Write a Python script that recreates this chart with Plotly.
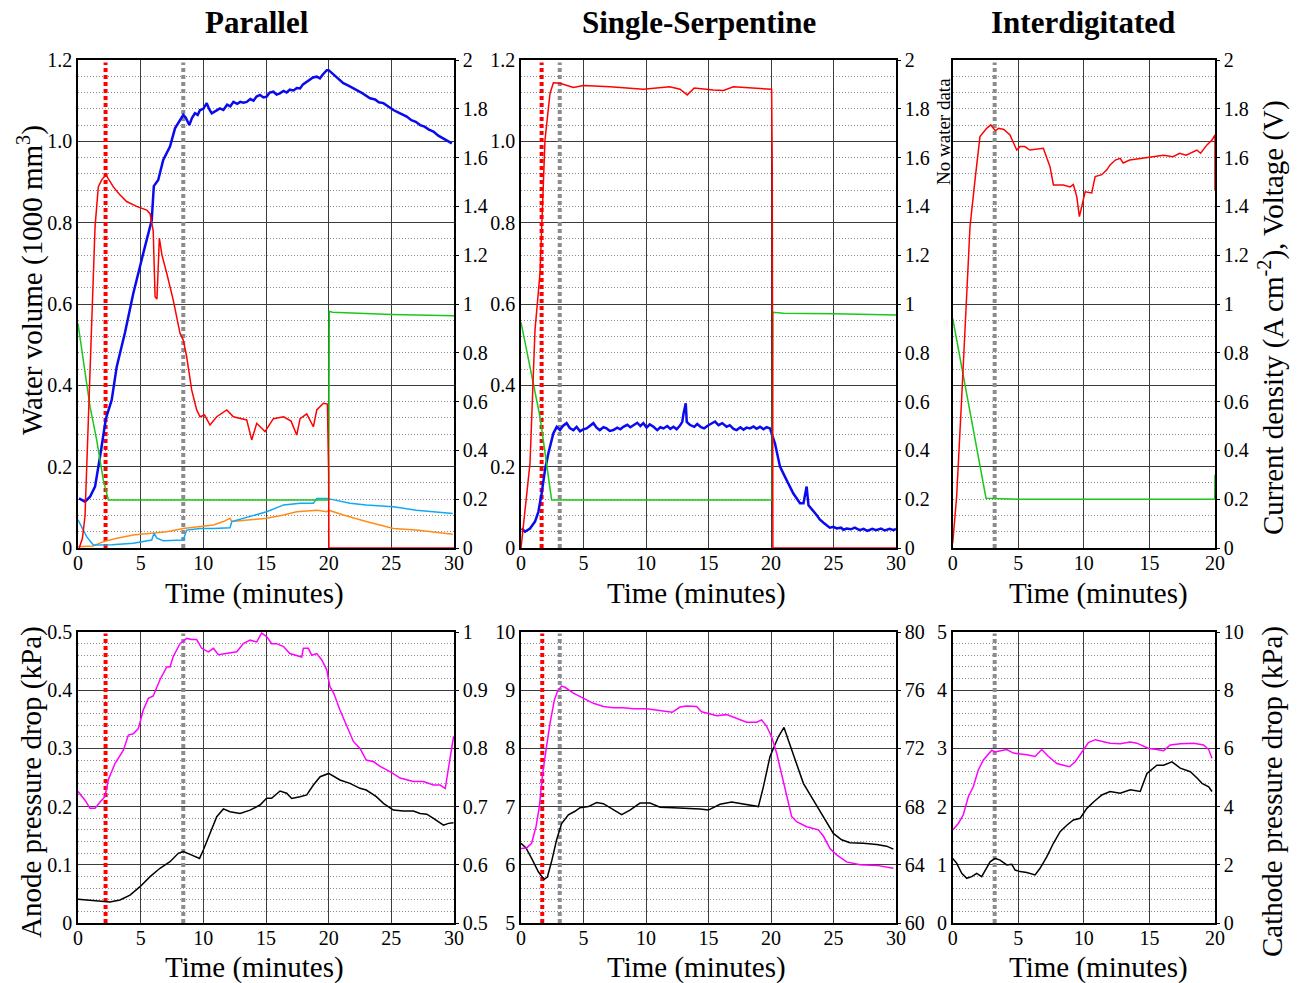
import plotly.graph_objects as go

FONT = "Liberation Serif"

# ---------------- DATA (time in minutes, value) ----------------
# Parallel, top: water volume (left axis, 1000 mm^3)
PAR_BLUE = [(0.08,0.122),(0.56,0.114),(0.96,0.126),(1.36,0.151),(1.76,0.225),(2.23,0.319),(2.69,0.364),
            (3.09,0.446),(3.75,0.53),(4.41,0.626),(5.21,0.725),(5.6,0.77),(5.88,0.806),(6.05,0.89),(6.4,0.905),
            (6.8,0.954),(7.34,0.987),(7.74,1.032),(8.1,1.05),(8.4,1.065),(8.6,1.058),(8.88,1.040),(9.1,1.058),
            (9.33,1.069),(9.55,1.065),(9.74,1.077),(10.0,1.08),(10.27,1.094),(10.45,1.08),(10.67,1.069),
            (11.0,1.075),(11.33,1.081),(11.6,1.077),(11.9,1.09),(12.15,1.086),(12.4,1.097),(12.7,1.092),
            (12.95,1.097),(13.2,1.095),(13.46,1.097),(13.75,1.104),(14.0,1.1),(14.25,1.11),(14.52,1.114),
            (14.8,1.108),(15.05,1.11),(15.3,1.12),(15.59,1.122),(15.85,1.115),(16.1,1.118),(16.4,1.124),
            (16.65,1.12),(16.9,1.127),(17.2,1.125),(17.45,1.131),(17.72,1.130),(17.95,1.14),(18.2,1.145),
            (18.5,1.151),(18.75,1.157),(19.05,1.159),(19.3,1.155),(19.55,1.165),(19.85,1.175),(20.0,1.175),
            (20.25,1.168),(20.5,1.16),(20.8,1.152),(21.17,1.143),(21.5,1.138),(21.85,1.133),(22.24,1.126),
            (22.6,1.12),(22.95,1.112),(23.3,1.106),(23.7,1.103),(24.0,1.096),(24.37,1.094),(24.75,1.085),
            (25.16,1.077),(25.5,1.072),(25.85,1.066),(26.23,1.061),(26.6,1.052),(26.95,1.048),(27.3,1.04),
            (27.65,1.036),(28.0,1.029),(28.36,1.024),(28.75,1.014),(29.16,1.007),(29.5,1.002),(29.83,0.995)]
PAR_LIGHTBLUE = [(0.0,0.069),(0.69,0.028),(1.22,0.0074),(2.7,0.008),(4.41,0.0115),(5.88,0.0197),(6.07,0.036),
                 (6.3,0.024),(6.8,0.018),(8.4,0.0197),(8.67,0.044),(9.74,0.048),(10.8,0.048),(12.13,0.05),
                 (12.27,0.065),(13.73,0.077),(15.05,0.089),(16.4,0.106),(17.72,0.11),(18.78,0.11),(19.05,0.122),
                 (19.85,0.122),(20.4,0.118),(21.7,0.11),(23.0,0.106),(25.16,0.1016),(27.0,0.093),(28.36,0.089),
                 (29.9,0.085)]
PAR_ORANGE = [(0.0,0.003),(1.22,0.005),(2.02,0.0156),(3.09,0.024),(4.41,0.032),(5.75,0.036),(7.08,0.04),
              (8.4,0.048),(9.74,0.052),(10.8,0.0566),(11.6,0.065),(12.13,0.073),(12.27,0.065),(13.73,0.069),
              (15.05,0.073),(16.4,0.081),(17.45,0.089),(19.05,0.093),(19.85,0.089),(20.0,0.093),(21.17,0.081),
              (23.0,0.065),(25.16,0.048),(27.0,0.044),(29.9,0.034)]
# Parallel, top: right axis (current density / voltage)
PAR_RED = [(0.1,0.0),(0.35,0.04),(0.56,0.13),(0.74,0.39),(0.9,0.63),(1.09,0.88),(1.36,1.317),(1.62,1.48),
           (1.9,1.51),(2.23,1.529),(2.82,1.48),(3.3,1.45),(3.88,1.42),(4.68,1.40),(5.48,1.385),(5.75,1.37),
           (6.0,1.30),(6.15,1.03),(6.3,1.02),(6.49,1.27),(6.7,1.2),(7.08,1.126),(7.6,1.016),(8.14,0.88),
           (8.4,0.852),(8.67,0.784),(9.07,0.648),(9.47,0.566),(9.74,0.538),(10.1,0.545),(10.53,0.504),
           (11.07,0.538),(11.87,0.566),(12.4,0.538),(13.46,0.525),(13.86,0.443),(14.26,0.511),(14.92,0.477),
           (15.59,0.53),(16.4,0.538),(17.0,0.52),(17.45,0.463),(17.72,0.53),(18.25,0.55),(18.78,0.497),
           (19.05,0.566),(19.58,0.593),(19.9,0.59),(20.0,0.30),(20.02,0.0),(30.0,0.0)]
PAR_GREEN = [(0.0,0.92),(0.69,0.661),(0.96,0.579),(1.49,0.443),(2.02,0.279),(2.42,0.197),(5.0,0.197),
             (10.0,0.197),(15.0,0.196),(18.8,0.196),(20.0,0.197),(20.05,0.97),(20.3,0.966),(25.0,0.957),
             (30.0,0.952)]

# Single-Serpentine, top
SER_BLUE = [(0.05,0.048),(0.32,0.04),(0.72,0.048),(1.12,0.065),(1.39,0.089),(1.65,0.134),(1.92,0.192),
            (2.19,0.233),(2.59,0.282),(2.86,0.298),(3.12,0.29),(3.35,0.3),(3.65,0.307),(3.9,0.295),(4.19,0.29),
            (4.45,0.298),(4.72,0.287),(5.0,0.292),(5.25,0.294),(5.5,0.3),(5.79,0.307),(6.05,0.296),(6.3,0.29),
            (6.6,0.297),(6.85,0.294),(7.1,0.288),(7.39,0.29),(7.7,0.296),(7.95,0.292),(8.19,0.298),(8.5,0.303),
            (8.75,0.297),(8.99,0.301),(9.3,0.308),(9.55,0.3),(9.79,0.307),(10.05,0.296),(10.3,0.304),
            (10.6,0.298),(10.9,0.29),(11.15,0.297),(11.4,0.294),(11.7,0.3),(11.95,0.293),(12.2,0.298),
            (12.45,0.292),(12.72,0.301),(12.9,0.31),(13.0,0.33),(13.1,0.35),(13.18,0.356),(13.26,0.31),
            (13.5,0.303),(13.86,0.298),(14.1,0.305),(14.4,0.297),(14.65,0.294),(14.9,0.3),(15.2,0.305),
            (15.52,0.311),(15.8,0.302),(16.1,0.307),(16.45,0.298),(16.7,0.302),(17.0,0.293),(17.25,0.29),
            (17.55,0.297),(17.8,0.291),(18.05,0.296),(18.32,0.294),(18.6,0.299),(18.85,0.293),(19.12,0.298),
            (19.4,0.292),(19.65,0.297),(19.92,0.294),(20.32,0.257),(20.72,0.2),(21.12,0.175),(21.79,0.134),
            (22.32,0.11),(22.6,0.11),(22.85,0.151),(23.0,0.105),(23.65,0.081),(23.9,0.07),(24.2,0.062),
            (24.45,0.057),(24.7,0.05),(25.0,0.052),(25.25,0.048),(25.6,0.05),(25.8,0.045),(26.05,0.048),
            (26.4,0.046),(26.7,0.05),(27.1,0.044),(27.4,0.047),(27.7,0.042),(28.1,0.047),(28.4,0.044),
            (28.8,0.048),(29.1,0.043),(29.5,0.047),(29.8,0.044),(30.0,0.047)]
SER_RED = [(0.0,0.0),(0.72,0.347),(1.12,0.893),(1.52,1.126),(1.92,1.672),(2.32,1.863),(2.59,1.907),
           (3.12,1.905),(4.19,1.887),(4.99,1.895),(7.12,1.89),(9.79,1.88),(11.9,1.89),(12.72,1.88),
           (13.3,1.857),(13.86,1.885),(15.39,1.877),(16.2,1.875),(16.99,1.89),(18.6,1.885),(20.05,1.88),
           (20.1,1.563),(20.15,0.0),(30.0,0.0)]
SER_GREEN = [(0.0,0.925),(1.52,0.538),(2.45,0.197),(5.0,0.197),(10.0,0.197),(15.0,0.197),(20.1,0.197),
             (20.15,0.966),(21.0,0.962),(25.0,0.96),(30.0,0.955)]

# Interdigitated, top (no water data)
INT_RED = [(0.0,0.02),(0.3,0.21),(0.69,0.62),(0.94,0.88),(1.32,1.317),(1.7,1.508),(2.08,1.686),(2.59,1.72),
           (2.9,1.734),(3.25,1.71),(3.5,1.72),(3.9,1.715),(4.37,1.693),(4.88,1.631),(5.13,1.645),(5.5,1.645),
           (5.88,1.631),(6.91,1.638),(7.42,1.563),(7.68,1.488),(8.44,1.488),(8.95,1.48),(9.2,1.49),
           (9.46,1.44),(9.66,1.358),(9.84,1.40),(10.1,1.46),(10.6,1.455),(10.86,1.522),(11.37,1.53),
           (11.75,1.55),(12.0,1.57),(12.4,1.59),(12.77,1.597),(13.0,1.578),(13.5,1.59),(14.5,1.597),
           (15.3,1.604),(16.07,1.61),(16.8,1.604),(17.3,1.618),(17.8,1.61),(18.62,1.631),(18.9,1.618),
           (19.39,1.652),(19.77,1.672),(20.0,1.693),(20.0,1.467)]
INT_GREEN = [(0.0,0.941),(2.54,0.204),(5.0,0.2),(10.0,0.2),(15.0,0.2),(19.98,0.2),(20.0,0.3)]

# Bottom row: anode (left axis) black, cathode (right axis) magenta
PAR_ANODE = [(0,0.0407),(0.96,0.039),(1.76,0.0367),(2.55,0.0361),(3.35,0.0395),(4.15,0.048),(4.95,0.0624),
             (5.75,0.0796),(6.54,0.094),(7.34,0.1053),(8.0,0.1197),(8.4,0.1226),(8.94,0.118),(9.33,0.1146),
             (9.7,0.111),(10.0,0.1254),(10.53,0.154),(11.07,0.1826),(11.6,0.196),(12.13,0.1912),(12.93,0.1883),
             (13.73,0.194),(14.52,0.2027),(15.05,0.2142),(15.45,0.2142),(16.12,0.2268),(16.65,0.223),
             (17.05,0.214),(17.72,0.217),(18.25,0.22),(18.78,0.237),(19.32,0.2514),(20.0,0.257),(20.4,0.2514),
             (20.9,0.2457),(21.7,0.24),(22.5,0.2314),(23.0,0.2285),(23.8,0.217),(24.37,0.2056),(25.16,0.194),
             (25.96,0.1924),(26.76,0.1924),(27.3,0.1883),(27.83,0.187),(28.36,0.1798),(29.16,0.168),
             (29.56,0.1712),(29.96,0.1724)]
PAR_CATHODE = [(0,0.726),(0.56,0.711),(0.96,0.697),(1.36,0.697),(1.76,0.708),(2.15,0.717),(2.42,0.746),
               (2.95,0.774),(3.62,0.797),(4.02,0.823),(4.41,0.825),(4.81,0.834),(5.21,0.866),(5.61,0.886),
               (6.0,0.89),(6.54,0.918),(7.08,0.94),(7.34,0.94),(7.6,0.958),(8.14,0.98),(8.67,0.989),(9.07,0.987),
               (9.47,0.987),(9.87,0.972),(10.4,0.966),(10.8,0.972),(11.2,0.961),(11.87,0.963),(12.67,0.966),
               (13.19,0.98),(13.73,0.986),(14.26,0.983),(14.65,0.998),(15.05,0.992),(15.45,0.98),(15.85,0.98),
               (16.4,0.975),(16.9,0.963),(17.45,0.96),(17.85,0.957),(17.98,0.972),(18.38,0.972),(18.65,0.96),
               (19.05,0.963),(19.45,0.952),(19.85,0.935),(20.1,0.906),(20.4,0.895),(20.9,0.866),(21.45,0.837),
               (21.97,0.812),(22.5,0.8),(23.0,0.78),(23.6,0.777),(24.1,0.769),(24.9,0.76),(25.7,0.749),
               (26.75,0.743),(27.55,0.743),(28.36,0.737),(28.9,0.737),(29.3,0.731),(29.56,0.769),(29.96,0.82)]
SER_ANODE = [(0,6.37),(0.4,6.29),(0.85,6.11),(1.39,5.88),(1.84,5.75),(2.11,5.79),(2.45,6.06),(2.85,6.43),
             (3.25,6.71),(3.79,6.86),(4.32,6.92),(4.72,6.98),(5.39,7.0),(6.05,7.07),(6.59,7.05),(7.39,6.95),
             (8.05,6.86),(8.72,6.94),(9.52,7.06),(10.32,7.06),(11.12,6.99),(12.19,6.98),(13.25,6.97),
             (14.32,6.96),(14.99,6.94),(15.92,7.04),(16.85,7.08),(17.79,7.04),(18.99,7.0),(19.39,7.34),
             (19.92,7.86),(20.59,8.2),(21.04,8.36),(21.39,8.14),(21.92,7.8),(22.59,7.4),(23.39,7.11),
             (24.19,6.83),(24.99,6.54),(25.65,6.43),(26.32,6.38),(27.39,6.37),(28.45,6.35),(29.25,6.32),
             (29.79,6.27)]
SER_CATHODE = [(0,65.12),(0.45,65.16),(0.85,65.48),(1.2,66.62),(1.47,68.0),(1.73,70.28),(2.0,71.88),
               (2.32,73.72),(2.67,75.32),(2.93,75.96),(3.25,76.28),(3.52,76.2),(4.19,75.8),(4.99,75.44),
               (5.79,75.1),(6.59,74.88),(7.39,74.8),(8.19,74.8),(8.99,74.72),(10.05,74.72),(11.12,74.6),
               (12.1,74.48),(12.72,74.84),(13.25,74.92),(14.05,74.88),(14.45,74.52),(15.0,74.4),(15.65,74.24),
               (16.45,74.32),(17.25,74.08),(18.05,73.8),(18.85,73.8),(19.25,73.96),(19.65,73.52),(20.05,72.8),
               (20.45,71.68),(20.85,70.28),(21.25,68.68),(21.65,67.32),(22.05,66.96),(22.85,66.62),
               (23.79,66.4),(24.2,65.96),(24.72,65.12),(25.25,64.68),(26.05,64.2),(27.12,64.0),(28.45,63.96),
               (29.79,63.76)]
INT_ANODE = [(0,1.11),(0.3,1.03),(0.69,0.854),(1.07,0.768),(1.45,0.797),(1.83,0.854),(2.21,0.797),(2.47,0.91),
             (2.85,1.05),(3.23,1.11),(3.61,1.08),(4.12,0.997),(4.5,1.01),(4.76,0.91),(5.14,0.883),(5.65,0.866),
             (6.28,0.825),(6.66,0.94),(7.18,1.14),(7.68,1.37),(8.19,1.57),(8.7,1.68),(9.2,1.77),(9.72,1.8),
             (10.23,1.97),(10.74,2.08),(11.37,2.2),(12.0,2.26),(12.77,2.23),(13.54,2.29),(14.3,2.26),
             (14.81,2.57),(15.57,2.71),(16.08,2.71),(16.72,2.77),(17.35,2.66),(18.12,2.6),(18.63,2.49),
             (19.01,2.4),(19.52,2.34),(19.77,2.26)]
INT_CATHODE = [(0,3.2),(0.43,3.42),(0.81,3.72),(1.19,4.34),(1.57,4.68),(1.95,5.26),(2.34,5.6),(2.72,5.78),
               (2.98,5.94),(3.23,5.88),(3.61,5.92),(4.12,5.96),(4.63,5.84),(5.14,5.82),(5.65,5.78),(6.28,5.72),
               (6.79,5.96),(7.3,5.72),(7.94,5.48),(8.45,5.42),(8.9,5.37),(9.34,5.54),(9.85,5.88),(10.35,6.2),
               (10.87,6.3),(11.38,6.24),(12.0,6.18),(12.77,6.16),(13.54,6.22),(14.04,6.18),(14.55,6.08),
               (14.94,6.0),(15.57,5.96),(16.08,5.92),(16.59,6.12),(17.35,6.16),(18.37,6.18),(19.13,6.12),
               (19.52,5.96),(19.77,5.66)]

# Event markers (minutes): red = first event, gray = second event
RED_MARKERS = {0: 2.2, 1: 1.65, 3: 2.2, 4: 1.7}
GRAY_MARKERS = {0: 8.4, 1: 3.1, 2: 3.2, 3: 8.4, 4: 3.1, 5: 3.2}

PANEL_TITLES = ["Parallel", "Single-Serpentine", "Interdigitated"]

# ---------------- LAYOUT GEOMETRY ----------------
W, H = 1300, 983
COLS = [(78, 454), (521, 896), (952.7, 1215)]
ROWS = [(60, 548), (632, 923)]
TITLE_X = [257, 699, 1083]
XLABEL_X = [254, 696, 1098]

def px(x):
    return x / W

def py(y):
    return 1 - y / H

BLUE, RED, GREEN, LBLUE, ORANGE, MAG, BLACK = "#0a0af0", "#ff0000", "#19c819", "#12a8f0", "#ff8c1a", "#ff00ff", "#000000"

panels = [
    dict(row=0, col=0, xmax=30, left=(0, 1.2, 0.2, 0.04, ["0", "0.2", "0.4", "0.6", "0.8", "1.0", "1.2"]),
         right=(0, 2, ["0", "0.2", "0.4", "0.6", "0.8", "1", "1.2", "1.4", "1.6", "1.8", "2"]),
         series=[(PAR_GREEN, GREEN, 1.5, "R"), (PAR_RED, RED, 1.5, "R"), (PAR_ORANGE, ORANGE, 1.5, "L"),
                 (PAR_LIGHTBLUE, LBLUE, 1.5, "L"), (PAR_BLUE, BLUE, 2.5, "L")]),
    dict(row=0, col=1, xmax=30, left=(0, 1.2, 0.2, 0.04, ["0", "0.2", "0.4", "0.6", "0.8", "1.0", "1.2"]),
         right=(0, 2, ["0", "0.2", "0.4", "0.6", "0.8", "1", "1.2", "1.4", "1.6", "1.8", "2"]),
         series=[(SER_GREEN, GREEN, 1.5, "R"), (SER_RED, RED, 1.5, "R"), (SER_BLUE, BLUE, 2.5, "L")]),
    dict(row=0, col=2, xmax=20, left=(0, 1.2, 0.2, 0.04, None),
         right=(0, 2, ["0", "0.2", "0.4", "0.6", "0.8", "1", "1.2", "1.4", "1.6", "1.8", "2"]),
         series=[(INT_GREEN, GREEN, 1.5, "R"), (INT_RED, RED, 1.5, "R")]),
    dict(row=1, col=0, xmax=30, left=(0, 0.5, 0.1, 0.02, ["0", "0.1", "0.2", "0.3", "0.4", "0.5"]),
         right=(0.5, 1, ["0.5", "0.6", "0.7", "0.8", "0.9", "1"]),
         series=[(PAR_CATHODE, MAG, 1.5, "R"), (PAR_ANODE, BLACK, 1.5, "L")]),
    dict(row=1, col=1, xmax=30, left=(5, 10, 1, 0.2, ["5", "6", "7", "8", "9", "10"]),
         right=(60, 80, ["60", "64", "68", "72", "76", "80"]),
         series=[(SER_CATHODE, MAG, 1.5, "R"), (SER_ANODE, BLACK, 1.5, "L")]),
    dict(row=1, col=2, xmax=20, left=(0, 5, 1, 0.2, ["0", "1", "2", "3", "4", "5"]),
         right=(0, 10, ["0", "2", "4", "6", "8", "10"]),
         series=[(INT_CATHODE, MAG, 1.5, "R"), (INT_ANODE, BLACK, 1.5, "L")]),
]

fig = go.Figure()
layout = {}
tickfont = dict(family=FONT, size=20, color="black")

for i, p in enumerate(panels):
    n = i + 1
    xname = "x" if n == 1 else f"x{n}"
    ylname = "y" if n == 1 else f"y{2*n-1}"
    yrname = f"y{2*n}"
    xkey = "xaxis" if n == 1 else f"xaxis{n}"
    ylkey = "yaxis" if n == 1 else f"yaxis{2*n-1}"
    yrkey = f"yaxis{2*n}"
    x0, x1 = COLS[p["col"]]
    y0, y1 = ROWS[p["row"]]
    lo, hi, major, minor, ltext = p["left"]
    rlo, rhi, rtext = p["right"]
    nmaj = int(round((hi - lo) / major))
    lvals = [lo + k * major for k in range(nmaj + 1)]
    nmin = int(round((hi - lo) / minor))
    mvals = [lo + k * minor for k in range(nmin + 1)]
    rstep = (rhi - rlo) / (len(rtext) - 1)
    rvals = [rlo + k * rstep for k in range(len(rtext))]

    layout[xkey] = dict(domain=[px(x0), px(x1)], anchor=ylname, range=[0, p["xmax"]],
                        tickvals=list(range(0, p["xmax"] + 1, 5)), showgrid=True, gridcolor="#3c3c3c",
                        gridwidth=1, showline=True, linecolor="black", linewidth=1.5, mirror=True,
                        ticks="", tickfont=tickfont, zeroline=False, fixedrange=True, automargin=False,
                        ticklabelstandoff=-4)
    yl = dict(domain=[py(y1), py(y0)], anchor=xname, range=[lo, hi], tickmode="array", tickvals=lvals,
              showticklabels=ltext is not None,
              showgrid=True, gridcolor="#3c3c3c", gridwidth=1,
              minor=dict(tickmode="array", tickvals=mvals, showgrid=True, gridcolor="#8a8a8a",
                         gridwidth=1, griddash="1px,2px", ticks=""),
              showline=True, linecolor="black", linewidth=1.5, mirror=True, ticks="",
              tickfont=tickfont, zeroline=False, fixedrange=True, automargin=False)
    if ltext is not None:
        yl["ticktext"] = ltext
    layout[ylkey] = yl
    layout[yrkey] = dict(overlaying=ylname, side="right", anchor=xname, range=[rlo, rhi], tickmode="array",
                         tickvals=rvals, ticktext=rtext, showgrid=False, showline=True, linecolor="black",
                         linewidth=1.5, ticks="outside", ticklen=3, tickcolor="black", tickfont=tickfont,
                         zeroline=False, fixedrange=True, automargin=False)

    # event marker lines
    for mk, col in ((RED_MARKERS, RED), (GRAY_MARKERS, "#8c8c8c")):
        if i in mk:
            fig.add_trace(go.Scatter(x=[mk[i], mk[i]], y=[lo, hi - (hi - lo) * 0.005], mode="lines",
                                     line=dict(color=col, width=4, dash="4px,3px"),
                                     xaxis=xname, yaxis=ylname, showlegend=False, hoverinfo="skip"))
    for data, color, width, side in p["series"]:
        fig.add_trace(go.Scatter(x=[d[0] for d in data], y=[d[1] for d in data], mode="lines",
                                 line=dict(color=color, width=width),
                                 xaxis=xname, yaxis=ylname if side == "L" else yrname,
                                 showlegend=False, hoverinfo="skip"))

annotations = []
for c, t in enumerate(PANEL_TITLES):
    annotations.append(dict(text=f"<b>{t}</b>", x=px(TITLE_X[c]), y=py(22), xref="paper", yref="paper",
                            showarrow=False, font=dict(family=FONT, size=31, color="black"),
                            xanchor="center", yanchor="middle"))
    for ylab in (593, 967):
        annotations.append(dict(text="Time (minutes)", x=px(XLABEL_X[c]), y=py(ylab), xref="paper",
                                yref="paper", showarrow=False, font=dict(family=FONT, size=29, color="black"),
                                xanchor="center", yanchor="middle"))

side_titles = [
    dict(text="Water volume (1000 mm<sup>3</sup>)", x=px(30), y=py(280), textangle=-90),
    dict(text="Anode pressure drop (kPa)", x=px(31), y=py(782), textangle=-90),
    dict(text="Current density (A cm<sup>-2</sup>), Voltage (V)", x=px(1272), y=py(318), textangle=-90),
    dict(text="Cathode pressure drop (kPa)", x=px(1272), y=py(792), textangle=-90),
]
for a in side_titles:
    a.update(xref="paper", yref="paper", showarrow=False, font=dict(family=FONT, size=29, color="black"),
             xanchor="center", yanchor="middle")
annotations += side_titles
annotations.append(dict(text="No water data", x=px(943), y=py(132), xref="paper", yref="paper",
                        textangle=-90, showarrow=False, font=dict(family=FONT, size=19, color="black"),
                        xanchor="center", yanchor="middle"))

fig.update_layout(width=W, height=H, margin=dict(l=0, r=0, t=0, b=0), paper_bgcolor="white",
                  plot_bgcolor="white", showlegend=False, annotations=annotations,
                  font=dict(family=FONT, color="black"), **layout)
fig.write_html("out.html", config={"responsive": False},
               post_script="document.body.style.margin='0';document.body.style.padding='0';"
                           "document.documentElement.style.overflow='hidden';")
